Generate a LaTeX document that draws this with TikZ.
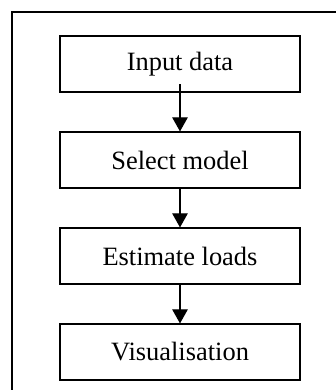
\documentclass[tikz,border=0pt]{standalone}
\usepackage{fontspec}
\setmainfont{Liberation Serif}
\usetikzlibrary{arrows.meta}

\begin{document}
\begin{tikzpicture}
[x=0.025cm,y=-0.025cm,>={Triangle[length=10pt,width=11pt]},
stepbox/.style={draw,line width=0.8pt,minimum width=6cm,minimum height=1.4cm,inner sep=0pt,font=\fontsize{18.8}{22}\selectfont},]

%Page size
\useasboundingbox (0,0) rectangle (336,390);

%Outer frame
\draw[line width=0.9pt] (12,400) -- (12,12) -- (346,12);

%Steps
\node (In) at (180,64)[stepbox] {Input data};
\node (Sel) at (180,160)[stepbox] {Select model};
\node (Est) at (180,256)[stepbox] {Estimate loads};
\node (Vis) at (180,352)[stepbox] {Visualisation};

%Arrows
\coordinate (in) at ([yshift=6pt]In.south);
\draw[->,line width=0.8pt] (in) -- (Sel.north);
\draw[->,line width=0.8pt] (Sel) -- (Est);
\draw[->,line width=0.8pt] (Est) -- (Vis);

\end{tikzpicture}
\end{document}
